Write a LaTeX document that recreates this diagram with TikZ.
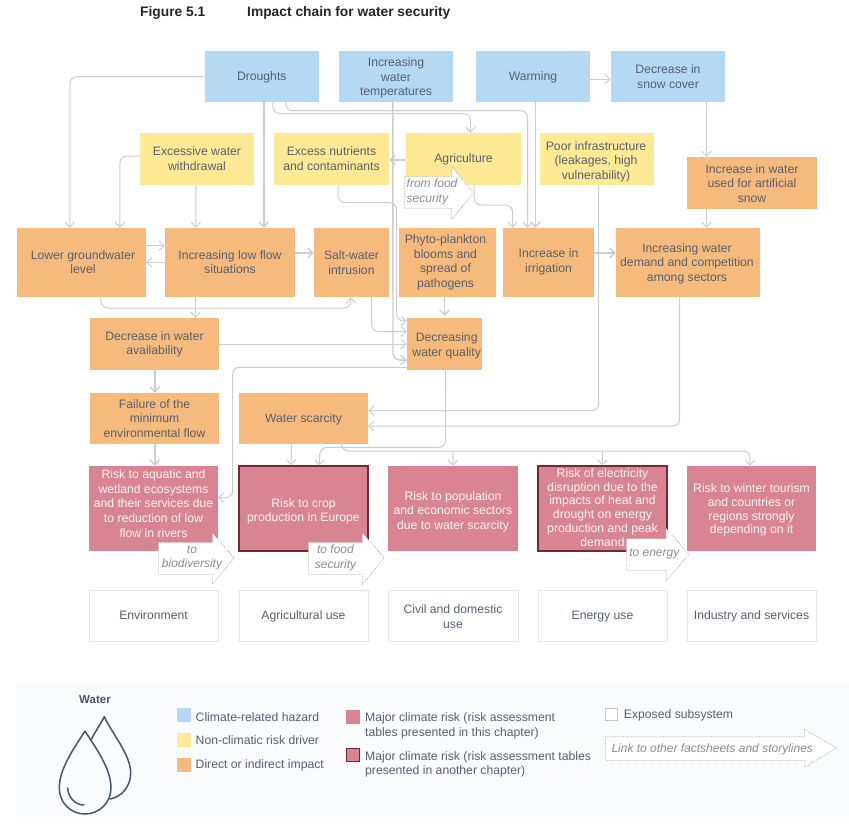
\documentclass[tikz,border=0pt]{standalone}
\usepackage{fontspec}
\setmainfont{Liberation Sans}
\usetikzlibrary{arrows.meta}
\definecolor{hazard}{HTML}{B5D8F3}
\definecolor{driver}{HTML}{FEE995}
\definecolor{impact}{HTML}{F6BB7C}
\definecolor{risk}{HTML}{D98591}
\definecolor{riskline}{HTML}{6E2C32}
\definecolor{ink}{HTML}{56606E}
\definecolor{conncol}{HTML}{CDCDCD}
\definecolor{legendbg}{HTML}{F9FBFD}
\definecolor{linkcol}{HTML}{8C8C8C}
\definecolor{subline}{HTML}{E6E6E6}
\definecolor{dropcol}{HTML}{47556A}
\tikzset{
  tx/.style={font=\fontsize{12.2}{14.6}\selectfont,text=ink,align=center,inner sep=0pt},
  hazardbox/.style={tx,fill=hazard},
  driverbox/.style={tx,fill=driver},
  impactbox/.style={tx,fill=impact},
  riskbox/.style={tx,fill=risk,text=white!92!risk},
  risktight/.style={riskbox,font=\fontsize{12.2}{13.8}\selectfont},
  riskdark/.style={riskbox,draw=riskline,line width=1.2pt},
  riskdarktight/.style={risktight,draw=riskline,line width=1.2pt},
  subbox/.style={tx,fill=white,draw=subline,line width=1pt},
  conn/.style={draw=conncol,line width=1pt,rounded corners=7pt,-{Straight Barb[length=5pt,width=9.5pt]}},
  connb/.style={conn,line width=1.4pt},
  linkarrow/.style={draw=linkcol!85,fill=white,line width=.6pt,densely dotted},
  linktext/.style={font=\fontsize{12}{14.6}\selectfont\itshape,text=linkcol,align=center,inner sep=0pt},
  legtext/.style={font=\fontsize{12.2}{14.4}\selectfont,text=ink,align=left,anchor=west,inner sep=0pt},
  titletext/.style={font=\fontsize{13.8}{16}\selectfont\bfseries,text=black!85,anchor=west,inner sep=0pt}
}
% [text shift]{name}{style}{x1}{y1}{x2}{y2}{text}: the filled box, then its text on top
\newcommand{\bx}[7][0,0]{%
  \node[#3,minimum width={(#6-#4)*1pt},minimum height={(#7-#5)*1pt}] (#2) at ({(#4+#6)/2},{(#5+#7)/2}) {};
  \bxtext{#3}{#1}{#2}}
\newcommand{\bxtext}[4]{\node[#1,fill=none,draw=none] (#3t) at ([shift={(#2)}]#3.center) {#4};}
\newcommand{\bigarrow}[9]{% name, x tail, x head, x tip, y tail top, y tail bottom, y head top, y head bottom, y tip
  \draw[linkarrow] (#2,#5) -- (#3,#5) -- (#3,#7) -- (#4,#9) -- (#3,#8) -- (#3,#6) -- (#2,#6) -- cycle;
  \coordinate (#1) at ({(#2+#3)/2},#9);}
\begin{document}
\begin{tikzpicture}[x=1pt,y=-1pt]
\useasboundingbox (0,0) rectangle (849,828);
\fill[white] (0,0) rectangle (849,828);
% title
\node[titletext] (figno) at (140,13) {Figure 5.1};
\node[titletext] (figtitle) at (247,13) {Impact chain for water security};
% hazards
\bx[0,0.5]{droughts}{hazardbox}{204.5}{51}{319}{102}{Droughts}
\bx[0,1.5]{temps}{hazardbox}{339}{51}{453}{102}{Increasing\\water\\temperatures}
\bx[0,0.5]{warming}{hazardbox}{476}{51}{590}{102}{Warming}
\bx{snow}{hazardbox}{611}{51}{725}{102}{Decrease in\\snow cover}
% drivers
\bx[0,-0.5]{withdrawal}{driverbox}{140}{133}{254}{185}{Excessive water\\withdrawal}
\bx[0,-0.5]{nutrients}{driverbox}{274}{133}{389}{185}{Excess nutrients\\and contaminants}
\bx{agri}{driverbox}{406}{133}{521}{185}{Agriculture}
\bx[-1,2.5]{infra}{driverbox}{540}{133}{654}{185}{Poor infrastructure\\(leakages, high\\vulnerability)}
% impacts
\bx[0,0.5]{artsnow}{impactbox}{687}{157}{817}{209}{Increase in water\\used for artificial\\snow}
\bx[1.5,-0.5]{lowergw}{impactbox}{17}{228}{146}{297}{Lower groundwater\\level}
\bx[0,-0.5]{lowflow}{impactbox}{165}{228}{295}{297}{Increasing low flow\\situations}
\bx{salt}{impactbox}{314}{228}{389}{297}{Salt-water\\intrusion}
\bx[-2,0]{phyto}{impactbox}{399}{228}{496}{297}{Phyto-plankton\\blooms and\\spread of\\pathogens}
\bx[0,-0.5]{irrig}{impactbox}{503}{228}{594}{297}{Increase in\\irrigation}
\bx[-1,1]{demand}{impactbox}{616}{228}{760}{297}{Increasing water\\demand and competition\\among sectors}
\bx[0,0.5]{avail}{impactbox}{90}{318}{219}{370}{Decrease in water\\availability}
\bx[2.2,2]{quality}{impactbox}{407}{318}{482}{370}{Decreasing\\water quality}
\bx{failure}{impactbox}{90}{393}{219}{444}{Failure of the\\minimum\\environmental flow}
\bx[0,1]{scarcity}{impactbox}{239}{393}{368}{444}{Water scarcity}
% risks
\bx[0,-5]{riskeco}{riskbox}{89}{466}{218}{551}{Risk to aquatic and\\wetland ecosystems\\and their services due\\to reduction of low\\flow in rivers}
\bx[0,3]{riskcrop}{riskdark}{239}{466}{368}{551}{Risk to crop\\production in Europe}
\bx[0,3]{riskpop}{riskbox}{388}{466}{518}{551}{Risk to population\\and economic sectors\\due to water scarcity}
\bx[0,-1]{riskelec}{riskdarktight}{538}{466}{667}{551}{Risk of electricity\\disruption due to the\\impacts of heat and\\drought on energy\\production and peak\\demand}
\bx[0,1.5]{risktour}{risktight}{687}{466}{816}{551}{Risk to winter tourism\\and countries or\\regions strongly\\depending on it}
% subsystems
\bx{env}{subbox}{89}{590}{218}{641}{Environment}
\bx[0,0.8]{agruse}{subbox}{239}{590}{368}{641}{Agricultural use}
\bx[0,1]{civil}{subbox}{388}{590}{518}{641}{Civil and domestic\\use}
\bx[0,0.8]{enuse}{subbox}{538}{590}{667}{641}{Energy use}
\bx[0,0.8]{indus}{subbox}{687}{590}{816}{641}{Industry and services}
% connectors
\draw[conn] (droughts.west) -- (70,76.5) -- ([xshift=53pt]lowergw.north west);
\draw[connb] ([xshift=59.5pt]droughts.south west) -- ([xshift=99pt]lowflow.north west);
\draw[conn] ([xshift=68.5pt]droughts.south west) -- (273,113.5) -- (470.7,113.5) -- ([xshift=64.7pt]agri.north west);
\draw[conn] ([xshift=81.5pt]droughts.south west) -- (286,110.7) -- (527.7,110.7) -- ([xshift=24.7pt]irrig.north west);
\draw[connb] ([xshift=54pt]temps.south west) -- (393,360) -- ([yshift=10pt]quality.south west);
\draw[connb] ([xshift=59.7pt]warming.south west) -- ([xshift=32.7pt]irrig.north west);
\draw[conn] (warming.east |- 0,79) -- (snow.west |- 0,79);
\draw[conn] ([xshift=95.7pt]snow.south west) -- ([xshift=19.7pt]artsnow.north west);
\draw[conn] ([xshift=19.7pt]artsnow.south west) -- ([xshift=90.7pt]demand.north west);
\draw[conn] ([yshift=3pt]withdrawal.west) -- (120,156) -- ([xshift=103pt]lowergw.north west);
\draw[conn] ([xshift=-1pt]withdrawal.south) -- ([xshift=31pt]lowflow.north west);
\draw[connb] ([yshift=-1pt]agri.west) -- (nutrients.east |- 0,160);
\draw[conn] ([xshift=68.3pt]agri.south west) -- (474.3,205) -- (512.7,205) -- ([xshift=9.7pt]irrig.north west);
\draw[conn] ([xshift=64.3pt]nutrients.south west) -- (338.3,202.7) -- (396.7,202.7) -- (396.7,321) -- ([yshift=-3pt]quality.north west);
\draw[conn] (lowergw.east |- 0,245.7) -- (lowflow.west |- 0,245.7);
\draw[conn] (lowflow.west |- 0,262.3) -- (lowergw.east |- 0,262.3);
\draw[connb] (lowflow.east |- 0,253) -- (salt.west |- 0,253);
\draw[connb] (irrig.east |- 0,253) -- (demand.west |- 0,253);
\draw[conn] ([xshift=84pt]lowergw.south west) -- (101,308) -- (351,308) -- ([xshift=37pt]salt.south west);
\draw[conn] ([xshift=30.7pt]lowflow.south west) -- ([xshift=105.7pt]avail.north west);
\draw[conn] ([xshift=57.7pt]salt.south west) -- (371.7,331.7) -- ([yshift=-13.7pt]quality.north west);
\draw[connb] ([xshift=45.7pt]phyto.south west) -- ([xshift=37.7pt,yshift=2pt]quality.north west);
\draw[conn] (avail.east |- 0,344) -- (quality.west |- 0,344);
\draw[connb] ([xshift=65pt]avail.south west) -- ([xshift=65pt]failure.north west);
\draw[connb] ([xshift=65pt]failure.south west) -- ([xshift=66pt]riskeco.north west);
\draw[conn] ([yshift=2.7pt]quality.south west) -- (232.7,367.3) -- (232.7,497.7) -- ([yshift=-31.7pt]riskeco.north east);
\draw[conn] ([xshift=38.7pt]quality.south west) -- (445.7,447.3) -- (320,447.3) -- ([xshift=81pt]riskcrop.north west);
\draw[conn] ([xshift=52.7pt]scarcity.south west) -- ([xshift=52.7pt]riskcrop.north west);
\draw[conn] ([xshift=102.7pt]scarcity.south west) -- (341.7,451) -- (750,451) -- ([xshift=63pt]risktour.north west);
\draw[conn] (453,451) -- ([xshift=65pt]riskpop.north west);
\draw[conn] (602.7,451) -- ([xshift=64.7pt]riskelec.north west);
\draw[conn] ([xshift=58.7pt]infra.south west) -- (598.7,410.7) -- (scarcity.east |- 0,410.7);
\draw[conn] ([xshift=63.7pt]demand.south west) -- (679.7,426) -- (scarcity.east |- 0,426);
% link arrows
\bigarrow{lkfood}{404.7}{451.7}{474}{176.7}{208.3}{166.7}{219}{193}
\node[linktext,align=left,anchor=west] (lkfoodt) at (406.5,192) {from food\\security};
\bigarrow{lkbio}{158.3}{212.3}{234}{542.3}{574.3}{532.7}{584.3}{558}
\node[linktext] (lkbiot) at (192,558) {to\\biodiversity};
\bigarrow{lkcrop}{308.3}{362.3}{384.3}{542.3}{574.3}{532.7}{584.3}{558}
\node[linktext] (lkcropt) at (335.5,558) {to food\\security};
\bigarrow{lken}{626.3}{666}{689}{538.7}{570.3}{528.3}{580.7}{554.5}
\node[linktext] (lkent) at (654.3,554) {to energy};
% legend
\fill[legendbg] (17,683) rectangle (849,816.7);
\node[font=\fontsize{11.5}{13}\selectfont\bfseries,text=ink!90!black,inner sep=0pt] (watert) at (95,699.5) {Water};
\begin{scope}[draw=dropcol,line width=1.5pt,line join=round,line cap=round]
\draw (91,740) .. controls (95,732) and (100,725) .. (104.3,716.7) .. controls (113,735) and (130.7,755) .. (130.7,773) .. controls (130.7,786) and (122,797) .. (110,799);
\draw (85,731) .. controls (75,747) and (59.3,768) .. (59.3,788) .. controls (59.3,803) and (71,814) .. (85,814) .. controls (99,814) and (111,803) .. (111,788) .. controls (111,768) and (95,747) .. (85,731) -- cycle;
\draw (67.7,788) .. controls (68,797) and (75,805) .. (84,805);
\end{scope}
\node[fill=hazard,minimum width=13.7pt,minimum height=14pt,inner sep=0pt] (lgh) at (183.85,715) {};
\node[legtext] (lght) at (195.5,717) {Climate-related hazard};
\node[fill=driver,minimum width=13.7pt,minimum height=14pt,inner sep=0pt] (lgd) at (183.85,739.7) {};
\node[legtext] (lgdt) at (195.5,740) {Non-climatic risk driver};
\node[fill=impact,minimum width=13.7pt,minimum height=14pt,inner sep=0pt] (lgi) at (183.85,764.7) {};
\node[legtext] (lgit) at (195.5,765.5) {Direct or indirect impact};
\node[fill=risk,minimum width=14pt,minimum height=14.3pt,inner sep=0pt] (lgr) at (353,716.9) {};
\node[legtext] (lgrt) at (365,725.7) {Major climate risk (risk assessment\\tables presented in this chapter)};
\node[fill=risk,draw=riskline,line width=1.2pt,minimum width=13pt,minimum height=13.3pt,inner sep=0pt] (lgk) at (353,754.9) {};
\node[legtext] (lgkt) at (365,764.3) {Major climate risk (risk assessment tables\\presented in another chapter)};
\node[fill=white,draw=black!22,line width=1.2pt,minimum width=12pt,minimum height=12pt,inner sep=0pt] (lgs) at (611.8,714.2) {};
\node[legtext] (lgst) at (623.7,715.7) {Exposed subsystem};
\bigarrow{lklink}{605.3}{804.3}{836.7}{736.7}{760.3}{729.3}{767.3}{748}
\node[linktext,anchor=west] (lklinkt) at (611.3,749) {Link to other factsheets and storylines};
\end{tikzpicture}
\end{document}
